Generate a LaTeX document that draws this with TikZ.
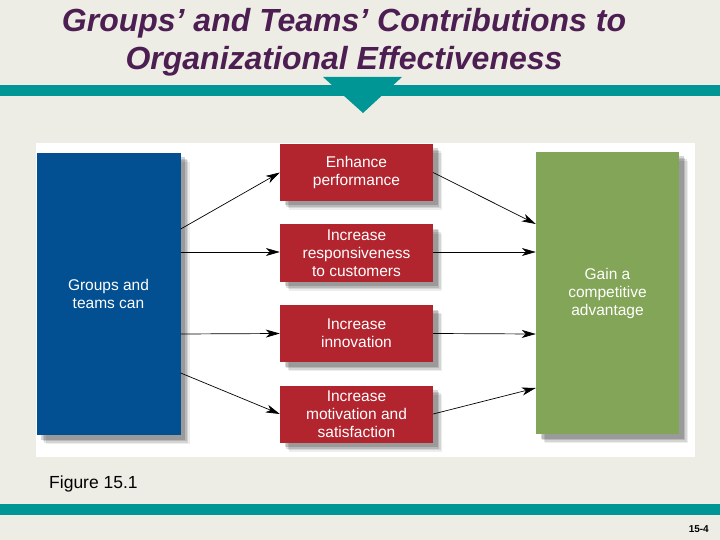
\documentclass[tikz,border=0pt]{standalone}
\usepackage{fontspec}
\setmainfont{Liberation Sans}
\usetikzlibrary{arrows.meta,shadows}
\definecolor{slidebg}{RGB}{238,237,229}
\definecolor{barteal}{RGB}{0,150,150}
\definecolor{titlepurple}{RGB}{77,30,82}
\definecolor{grpblue}{RGB}{2,79,146}
\definecolor{effred}{RGB}{178,37,47}
\definecolor{advgreen}{RGB}{131,165,87}
\tikzset{
	softshadow/.style={
		general shadow={shadow xshift=9pt, shadow yshift=-9pt, fill=black, opacity=0.07},
		general shadow={shadow xshift=7.5pt, shadow yshift=-7.5pt, fill=black, opacity=0.10},
		general shadow={shadow xshift=6pt, shadow yshift=-6pt, fill=black, opacity=0.13},
		general shadow={shadow xshift=4.5pt, shadow yshift=-4.5pt, fill=black, opacity=0.16}},
	box/.style={text=white, align=center, inner sep=0pt, font=\fontsize{15.5}{18}\selectfont, softshadow},
	sidebox/.style={box, minimum width=144pt, minimum height=282pt},
	redbox/.style={box, fill=effred, minimum width=153pt, minimum height=57pt},
	arr/.style={-{Stealth[length=14pt,width=8pt,inset=4pt]}, draw=black, line width=0.7pt},
}
\begin{document}
\begin{tikzpicture}[x=1pt,y=-1pt]
	\useasboundingbox (0,0) rectangle (720,540);
	\fill[slidebg] (0,0) rectangle (720,540);
	\node (title) at (344,42)	[align=center, inner sep=0pt, text=titlepurple, font=\fontsize{32}{38}\selectfont\bfseries\itshape]	{Groups’ and Teams’ Contributions to\\Organizational Effectiveness};
	\fill[barteal] (0,85) rectangle (720,96);
	\fill[barteal] (323,77) -- (402,77) -- (363,113) -- cycle;
	\fill[white] (36,143) rectangle (695,457);
	\node (G) at (108.5,294)	[sidebox, fill=grpblue]	{Groups and\\teams can};
	\node (A) at (607.5,293)	[sidebox, fill=advgreen, minimum width=143pt]	{Gain a\\competitive\\advantage};
	\node (P) at (356.5,172.5)	[redbox]	{Enhance\\performance};
	\node (R) at (356.5,253)	[redbox]	{Increase\\responsiveness\\to customers};
	\node (I) at (356.5,333.5)	[redbox]	{Increase\\innovation};
	\node (M) at (356.5,414)	[redbox]	{Increase\\motivation and\\satisfaction};
	\draw[arr] ([yshift=65pt]G.east) -- (P.west);
	\draw[arr] ([yshift=42pt]G.east) -- ([yshift=1pt]R.west);
	\draw[arr] ([yshift=-40pt]G.east) -- (I.west);
	\draw[arr] ([yshift=-79pt]G.east) -- (M.west);
	\draw[arr] (P.east) -- ([yshift=69pt]A.west);
	\draw[arr] ([yshift=1pt]R.east) -- ([yshift=41pt]A.west);
	\draw[arr] (I.east) -- ([yshift=-41pt]A.west);
	\draw[arr] (M.east) -- ([yshift=-95pt]A.west);
	\node (fig) at (49,483.5)	[anchor=west, inner sep=0pt, font=\fontsize{17.5}{20}\selectfont]	{Figure 15.1};
	\fill[barteal] (0,504) rectangle (720,515);
	\node (page) at (709,529)	[anchor=east, inner sep=0pt, font=\fontsize{10}{12}\selectfont\bfseries]	{15-4};
\end{tikzpicture}
\end{document}
